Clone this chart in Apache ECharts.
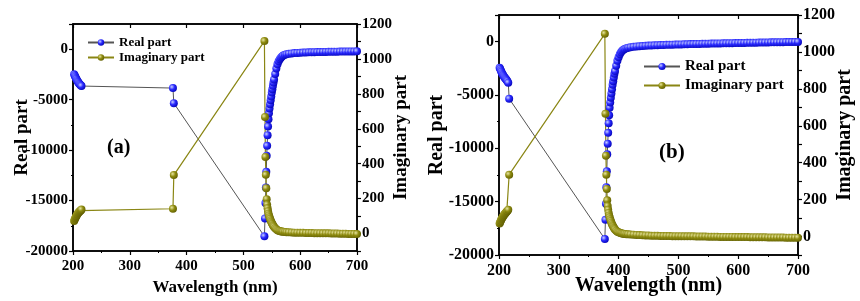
<!DOCTYPE html>
<html>
<head>
<meta charset="utf-8">
<script src="https://cdn.jsdelivr.net/npm/echarts@6/dist/echarts.min.js"></script>
<style>
  html, body { margin: 0; padding: 0; background: #fff; }
  #chart { width: 860px; height: 301px; }
</style>
</head>
<body>
<div id="chart"></div>
<script>
// panel (a)
var wlA = [202, 203, 204, 205, 206, 207, 208, 209, 210, 211, 212, 213, 214, 215,
  376, 377.5,
  537, 538, 538.8, 539.5, 540.3, 541, 541.8, 542.6, 543.4, 544.2,
  545, 546, 547, 548, 549, 550, 551, 552, 553, 554,
  556, 558, 560, 562, 564, 566, 568, 570,
  573, 576, 580, 585, 590, 595,
  600, 605, 610, 615, 620, 625, 630, 635, 640, 645, 650, 655, 660, 665, 670, 675, 680, 685, 690, 695, 700];
var realA = [-2480, -2600, -2720, -2850, -2960, -3070, -3170, -3260, -3340, -3410, -3480, -3540, -3590, -3650,
  -3850, -5350,
  -18550, -16770, -15250, -13700, -12150, -10560, -9570, -8520, -7660, -6930,
  -6340, -5880, -5450, -5050, -4690, -4290, -3960, -3630, -3300, -3000,
  -2450, -1920, -1500, -1200, -990, -840, -720, -620,
  -540, -490, -450, -415, -385, -365,
  -350, -335, -322, -310, -300, -292, -284, -277, -270, -264, -258, -252, -247, -242, -237, -232, -227, -222, -218, -214, -210];
var imagA = [72, 80, 88, 95, 101, 107, 112, 117, 121, 125, 128, 131, 134, 137,
  142, 335,
  1102, 667, 439, 336, 260, 197, 165, 145, 128, 114,
  104, 93, 84, 75, 67, 60, 54, 48, 43, 38,
  30, 24, 19, 16, 14, 12, 11, 10,
  9, 8, 7, 6, 5, 5,
  4, 4, 3, 3, 3, 2, 2, 2, 1, 1, 1, 0, 0, 0, -1, -1, -1, -2, -2, -2, -3];

// panel (b)
var wlB = [201, 202, 203, 204, 205, 206, 207, 208, 209, 210, 211, 212, 213, 214,
  215.5, 217,
  377, 378, 378.8, 379.5, 380.3, 381, 381.8, 382.6, 383.4, 384.2,
  385, 386, 387, 388, 389, 390, 391, 392, 393, 394,
  396, 398, 400, 402, 404, 406, 408, 410,
  413, 416, 420, 425, 430, 435, 440, 445, 450,
  455, 460, 465, 470, 475, 480, 485, 490, 495, 500, 505, 510, 515, 520, 525, 530, 535, 540, 545, 550,
  555, 560, 565, 570, 575, 580, 585, 590, 595, 600, 605, 610, 615, 620, 625, 630, 635, 640, 645, 650,
  655, 660, 665, 670, 675, 680, 685, 690, 695, 700];
var realB = [-2450, -2570, -2700, -2830, -2950, -3060, -3160, -3250, -3330, -3410, -3480, -3550, -3620, -3700,
  -3850, -5350,
  -18500, -16700, -15200, -13650, -12150, -10560, -9560, -8550, -7650, -6900,
  -6200, -5700, -5250, -4850, -4450, -4050, -3700, -3350, -3000, -2750,
  -2250, -1800, -1450, -1180, -990, -860, -760, -680,
  -610, -560, -520, -480, -450, -425, -405, -385, -370,
  -356, -343, -331, -320, -309, -299, -289, -280, -271, -262, -254, -246, -238, -230, -223, -216, -209, -202, -195, -188,
  -181, -175, -168, -162, -156, -150, -144, -138, -132, -126, -120, -114, -108, -103, -97, -92, -86, -81, -76, -71,
  -66, -61, -56, -51, -47, -42, -38, -34, -30, -26];
var imagB = [70, 78, 86, 93, 99, 105, 110, 115, 119, 123, 127, 131, 135, 139,
  145, 335,
  1098, 665, 438, 335, 258, 196, 165, 145, 128, 114,
  104, 93, 84, 75, 67, 60, 54, 48, 43, 38,
  31, 26, 23, 20, 18, 16, 15, 14,
  13, 12, 11, 10, 9, 8, 7, 6, 6,
  4, 4, 4, 3, 3, 3, 3, 2, 2, 2, 2, 1, 1, 1, 1, 0, 0, 0, 0, -1,
  -1, -1, -1, -2, -2, -2, -2, -2, -3, -3, -3, -3, -3, -4, -4, -4, -4, -4, -4, -5,
  -5, -5, -5, -5, -5, -6, -6, -6, -6, -6];

var wlTicks = [200, 300, 400, 500, 600, 700];
var realTicks = [-20000, -15000, -10000, -5000, 0];
var imagTicks = [0, 200, 400, 600, 800, 1000, 1200];

function pairs(xs, ys) {
  return xs.map(function (x, i) { return [x, ys[i]]; });
}

var serif = 'Liberation Serif';
var blueBall = new echarts.graphic.RadialGradient(0.35, 0.35, 0.75, [
  { offset: 0, color: '#c8d0ff' },
  { offset: 0.45, color: '#2a2aff' },
  { offset: 1, color: '#0000b0' }
]);
var oliveBall = new echarts.graphic.RadialGradient(0.35, 0.35, 0.75, [
  { offset: 0, color: '#e8e6a0' },
  { offset: 0.45, color: '#8f8c10' },
  { offset: 1, color: '#5c5a00' }
]);

function xAxes(grid, fs, nameFs, gap) {
  return [{
    gridIndex: grid, type: 'value', min: 200, max: 700, interval: 100, position: 'bottom',
    name: 'Wavelength (nm)', nameLocation: 'middle', nameGap: gap, nameMoveOverlap: false,
    nameTextStyle: { fontFamily: serif, fontWeight: 'bold', fontSize: nameFs, color: '#000' },
    axisLine: { onZero: false, lineStyle: { color: '#000', width: 1.5 } },
    axisTick: { length: 4, lineStyle: { color: '#000', width: 1.2 } },
    minorTick: { show: true, splitNumber: 2, length: 2, lineStyle: { color: '#000' } },
    splitLine: { show: false },
    axisLabel: {
      margin: 8, fontFamily: serif, fontWeight: 'bold', fontSize: fs, color: '#000',
      formatter: function (v) { return wlTicks.indexOf(v) >= 0 ? String(v) : ''; }
    }
  }, {
    gridIndex: grid, type: 'value', min: 200, max: 700, interval: 100, position: 'top',
    axisLine: { onZero: false, lineStyle: { color: '#000', width: 1.5 } },
    axisTick: { inside: true, length: 4, lineStyle: { color: '#000', width: 1.2 } },
    minorTick: { show: false },
    splitLine: { show: false },
    axisLabel: { show: false }
  }];
}

function yAxes(grid, fs, nameFs, gapL, gapR) {
  return [{
    gridIndex: grid, type: 'value', min: -20000, max: 2500, interval: 5000, position: 'left',
    name: 'Real part', nameLocation: 'middle', nameRotate: 90, nameGap: gapL, nameMoveOverlap: false,
    nameTextStyle: { fontFamily: serif, fontWeight: 'bold', fontSize: nameFs, color: '#000' },
    axisLine: { show: true, onZero: false, lineStyle: { color: '#000', width: 1.5 } },
    axisTick: { show: true, length: 4, lineStyle: { color: '#000', width: 1.2 } },
    minorTick: { show: true, splitNumber: 2, length: 2, lineStyle: { color: '#000' } },
    splitLine: { show: false },
    axisLabel: {
      margin: 5, fontFamily: serif, fontWeight: 'bold', fontSize: fs, color: '#000',
      formatter: function (v) { return realTicks.indexOf(v) >= 0 ? String(v) : ''; }
    }
  }, {
    gridIndex: grid, type: 'value', min: -100, max: 1200, interval: 100, position: 'right',
    name: 'Imaginary part', nameLocation: 'middle', nameRotate: 90, nameGap: gapR, nameMoveOverlap: false,
    nameTextStyle: { fontFamily: serif, fontWeight: 'bold', fontSize: nameFs, color: '#000' },
    axisLine: { show: true, onZero: false, lineStyle: { color: '#000', width: 1.5 } },
    axisTick: { show: true, length: 4, lineStyle: { color: '#000', width: 1.2 } },
    splitLine: { show: false },
    axisLabel: {
      margin: 5, fontFamily: serif, fontWeight: 'bold', fontSize: fs, color: '#000',
      formatter: function (v) { return imagTicks.indexOf(v) >= 0 ? String(v) : ''; }
    }
  }];
}

function realSeries(xi, yi, data) {
  return {
    name: 'Real part', type: 'line', xAxisIndex: xi, yAxisIndex: yi, data: data,
    symbol: 'circle', symbolSize: 8, showAllSymbol: true,
    lineStyle: { color: '#555', width: 1 },
    itemStyle: { color: blueBall, borderWidth: 0 },
    emphasis: { disabled: true }
  };
}
function imagSeries(xi, yi, data) {
  return {
    name: 'Imaginary part', type: 'line', xAxisIndex: xi, yAxisIndex: yi, data: data,
    symbol: 'circle', symbolSize: 8, showAllSymbol: true,
    lineStyle: { color: '#8a8614', width: 1.2 },
    itemStyle: { color: oliveBall, borderWidth: 0 },
    emphasis: { disabled: true }
  };
}

var chart = echarts.init(document.getElementById('chart'));
chart.setOption({
  animation: false,
  backgroundColor: '#fff',
  grid: [
    { left: 73, top: 24, width: 284, height: 228, show: true, borderColor: '#000', borderWidth: 1.5 },
    { left: 499, top: 15, width: 299, height: 241, show: true, borderColor: '#000', borderWidth: 1.5 }
  ],
  xAxis: xAxes(0, 15, 17, 28).concat(xAxes(1, 16, 20, 21)),
  yAxis: yAxes(0, 15, 19, 41, 35).concat(yAxes(1, 16, 20, 52, 37)),
  legend: [
    {
      left: 82, top: 31, orient: 'vertical', itemWidth: 26, itemHeight: 8, itemGap: 2,
      textStyle: { fontFamily: serif, fontWeight: 'bold', fontSize: 13, color: '#000' },
      data: ['Real part', 'Imaginary part']
    },
    {
      left: 638, top: 54, orient: 'vertical', itemWidth: 36, itemHeight: 9, itemGap: 4,
      textStyle: { fontFamily: serif, fontWeight: 'bold', fontSize: 15, color: '#000' },
      data: ['Real part', 'Imaginary part']
    }
  ],
  graphic: [
    { type: 'text', left: 107, top: 138, style: { text: '(a)', fontFamily: serif, fontWeight: 'bold', fontSize: 20, fill: '#000' } },
    { type: 'text', left: 659, top: 142, style: { text: '(b)', fontFamily: serif, fontWeight: 'bold', fontSize: 21, fill: '#000' } }
  ],
  series: [
    realSeries(0, 0, pairs(wlA, realA)),
    imagSeries(0, 1, pairs(wlA, imagA)),
    realSeries(2, 2, pairs(wlB, realB)),
    imagSeries(2, 3, pairs(wlB, imagB))
  ]
});
</script>
</body>
</html>
